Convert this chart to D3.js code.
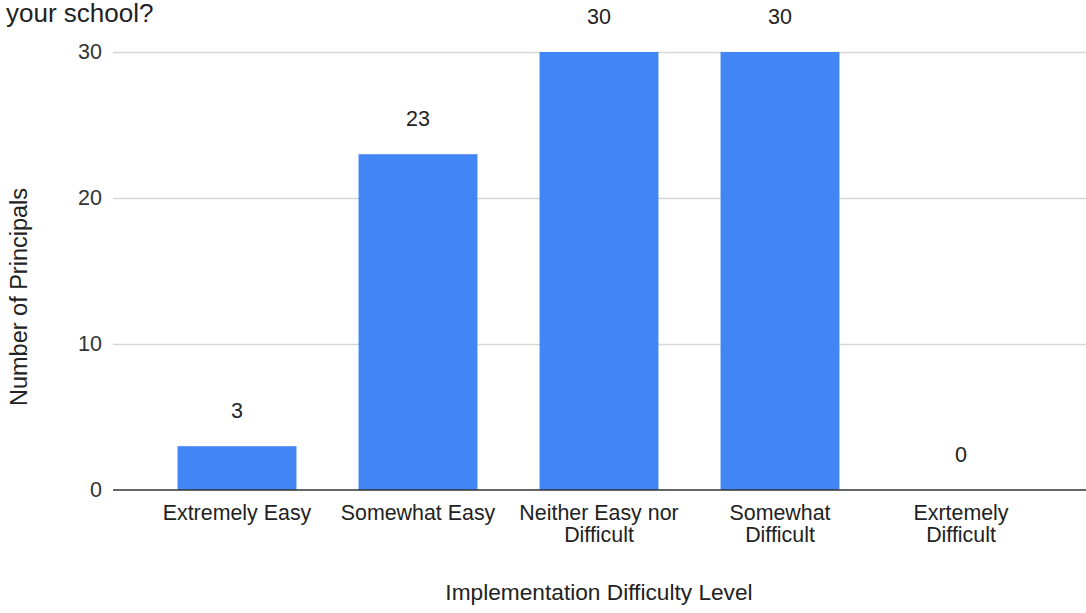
<!DOCTYPE html>
<html>
<head>
<meta charset="utf-8">
<script src="https://cdn.jsdelivr.net/npm/d3@7"></script>
<style>
  html, body { margin: 0; padding: 0; background: #fff; }
  svg { display: block; font-family: "Liberation Sans", Arial, sans-serif; }
</style>
</head>
<body>
<svg id="chart" width="1086" height="613"></svg>
<script>
// Survey responses: how hard the program was to implement
const categories = [
  "Extremely Easy",
  "Somewhat Easy",
  "Neither Easy nor\nDifficult",
  "Somewhat\nDifficult",
  "Exrtemely\nDifficult"
];
const principals = [3, 23, 30, 30, 0];
const yTicks = [0, 10, 20, 30];
const titleText = "your school?";
const xTitle = "Implementation Difficulty Level";
const yTitle = "Number of Principals";

const plot = { left: 113, right: 1086, top: 52, bottom: 490 };

const svg = d3.select("#chart");

const x = d3.scaleBand()
  .domain(categories)
  .range([146.5, 1051.5])
  .paddingInner(0.343)
  .paddingOuter(0.1715);

const y = d3.scaleLinear()
  .domain([0, 30])
  .range([plot.bottom, plot.top]);

// Horizontal gridlines and y tick labels
const yAxis = svg.append("g")
  .attr("transform", `translate(${plot.left},0)`)
  .call(d3.axisLeft(y).tickValues(yTicks).tickSize(-(plot.right - plot.left)).tickPadding(11));
yAxis.select(".domain").remove();
yAxis.selectAll(".tick line")
  .attr("stroke", d => d === 0 ? "none" : "#d6d6d6")
  .attr("stroke-width", 1.3);
yAxis.selectAll(".tick text")
  .attr("fill", "#333")
  .style("font-size", "21.5px");

// Bars
svg.append("g").selectAll("rect")
  .data(principals)
  .join("rect")
  .attr("x", (d, i) => x(categories[i]))
  .attr("width", x.bandwidth())
  .attr("y", d => y(d))
  .attr("height", d => y(0) - y(d))
  .attr("fill", "#4285f4");

// Value labels above the bars
svg.append("g").selectAll("text")
  .data(principals)
  .join("text")
  .attr("x", (d, i) => x(categories[i]) + x.bandwidth() / 2)
  .attr("y", d => y(d) - 28)
  .attr("text-anchor", "middle")
  .attr("fill", "#222")
  .style("font-size", "21.5px")
  .text(d => d);

// Baseline and category labels
const xAxis = svg.append("g")
  .attr("transform", `translate(0,${plot.bottom})`)
  .call(d3.axisBottom(x).tickSize(0).tickFormat(""));
xAxis.select(".domain").remove();
svg.append("line")
  .attr("x1", plot.left).attr("x2", plot.right)
  .attr("y1", y(0)).attr("y2", y(0))
  .attr("stroke", "#333").attr("stroke-width", 1.4);

xAxis.selectAll(".tick").each(function (d) {
  const t = d3.select(this).append("text")
    .attr("text-anchor", "middle")
    .attr("fill", "#222")
    .style("font-size", "21.4px");
  d.split("\n").forEach((line, k) => {
    t.append("tspan").attr("x", 0).attr("y", 30 + k * 22).text(line);
  });
});

// Axis titles
svg.append("text")
  .attr("x", 599).attr("y", 600)
  .attr("text-anchor", "middle")
  .attr("fill", "#222")
  .style("font-size", "22.7px")
  .text(xTitle);

svg.append("text")
  .attr("transform", "translate(27,297) rotate(-90)")
  .attr("text-anchor", "middle")
  .attr("fill", "#222")
  .style("font-size", "23.5px")
  .text(yTitle);

// Chart title, last line
svg.append("text")
  .attr("x", 6).attr("y", 22)
  .attr("fill", "#222")
  .style("font-size", "26px")
  .text(titleText);
</script>
</body>
</html>
